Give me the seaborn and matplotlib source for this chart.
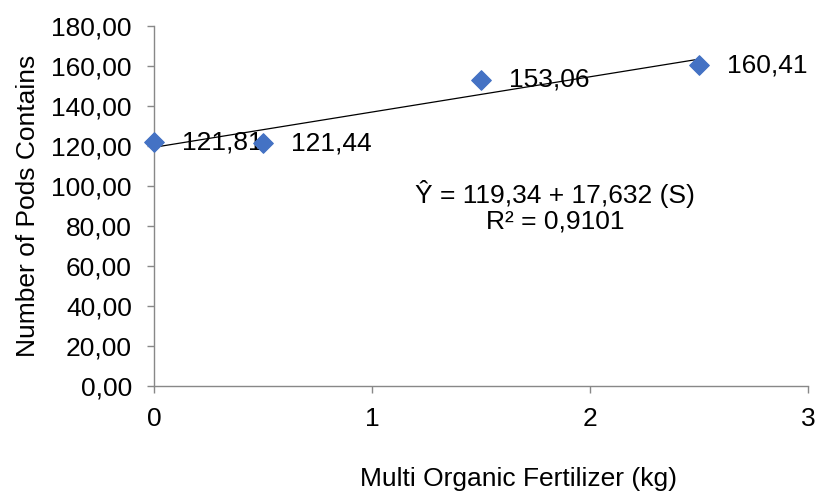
import matplotlib
matplotlib.use("Agg")
import matplotlib.pyplot as plt
import seaborn as sns
import numpy as np
import pandas as pd
from matplotlib.ticker import FuncFormatter

# Data
dose_kg = [0, 0.5, 1.5, 2.5]
pods = [121.81, 121.44, 153.06, 160.41]
point_labels = ["121,81", "121,44", "153,06", "160,41"]
intercept = 119.34
slope = 17.632
trend_x = [0, 2.5]
equation_text = "Ŷ = 119,34 + 17,632 (S)\nR² = 0,9101"

sns.set_theme(style="white")
plt.rcParams['font.family'] = ['Liberation Sans', 'DejaVu Sans']

FS = 19

fig = plt.figure(figsize=(8.16, 4.96), dpi=100)
ax = fig.add_axes([0.1887, 0.2218, 0.8015, 0.7258])

df = pd.DataFrame({"x": dose_kg, "y": pods})
trend = pd.DataFrame({"x": trend_x, "y": [intercept + slope * v for v in trend_x]})

sns.lineplot(data=trend, x="x", y="y", ax=ax, color="black", linewidth=0.9)
sns.scatterplot(data=df, x="x", y="y", ax=ax, marker="D", s=100, color="#4472C4",
                edgecolor="#4472C4", zorder=5, clip_on=False)

for x, y, lab in zip(dose_kg, pods, point_labels):
    ax.annotate(lab, (x, y), xytext=(20, 0), textcoords="offset points",
                va="center", ha="left", fontsize=FS, color="black")

ax.text(1.84, 89.5, equation_text, ha="center", va="center", fontsize=FS,
        linespacing=1.1, color="black")

ax.set_xlim(0, 3)
ax.set_ylim(0, 180)
ax.set_xticks([0, 1, 2, 3])
ax.set_yticks(np.arange(0, 181, 20))
ax.yaxis.set_major_formatter(FuncFormatter(lambda v, p: f"{v:.2f}".replace(".", ",")))

for side in ["top", "right"]:
    ax.spines[side].set_visible(False)
for side in ["left", "bottom"]:
    ax.spines[side].set_color("#888888")
    ax.spines[side].set_linewidth(1.0)

ax.tick_params(axis="both", which="major", direction="out", length=5, width=1.0,
               color="#888888", labelsize=FS, labelcolor="black", left=True, bottom=True)
ax.tick_params(axis="x", pad=10)
ax.tick_params(axis="y", pad=11)

ax.set_xlabel("Multi Organic Fertilizer (kg)", fontsize=FS, color="black")
ax.xaxis.set_label_coords(0.557, -0.225)
ax.set_ylabel("Number of Pods Contains", fontsize=FS, color="black", labelpad=8)

fig.savefig("out.png", dpi=100)
